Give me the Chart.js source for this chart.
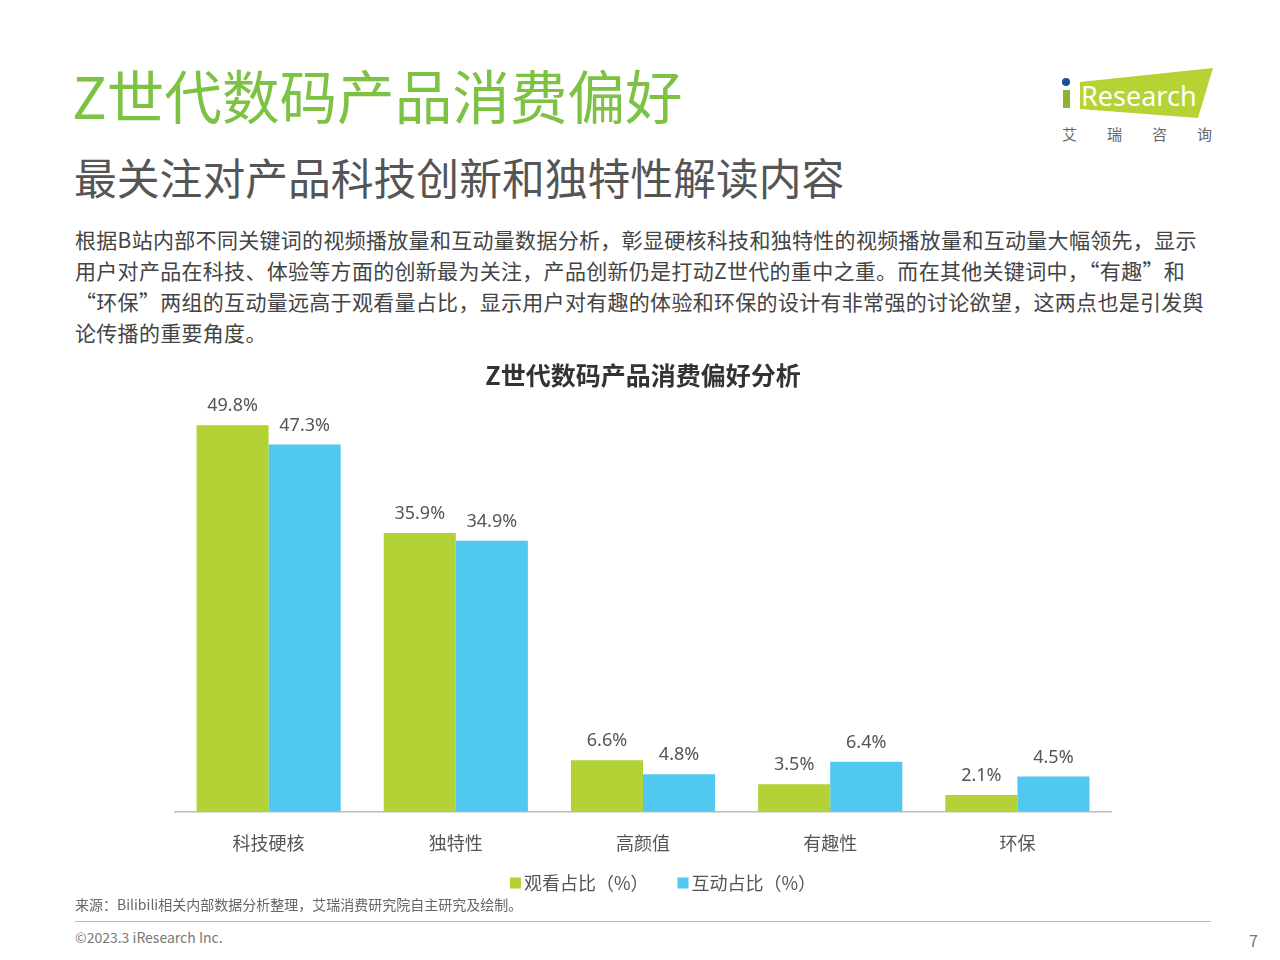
<!DOCTYPE html>
<html>
<head>
<meta charset="utf-8">
<script src="https://cdn.jsdelivr.net/npm/chart.js@4.4.0/dist/chart.umd.min.js"></script>
<style>
  html, body { margin: 0; padding: 0; background: #fff; }
  body { width: 1280px; height: 960px; position: relative; overflow: hidden; font-family: "Noto Sans CJK SC", "Noto Sans", sans-serif; }
  .title { position: absolute; left: 72px; top: 66px; font-size: 57.6px; color: #7dc242; line-height: 1; white-space: nowrap; }
  .subtitle { position: absolute; left: 74px; top: 155px; font-size: 42.8px; color: #555; line-height: 1; white-space: nowrap; }
  .para { position: absolute; left: 75px; top: 224px; font-size: 21px; letter-spacing: 0.3px; line-height: 31px; color: #444; white-space: nowrap; }
  .chartbox { position: absolute; left: 155px; top: 360px; width: 976px; height: 540px; }
  .source { position: absolute; left: 75px; top: 894px; font-size: 14px; color: #666; white-space: nowrap; }
  .rule { position: absolute; left: 75px; top: 921px; width: 1136px; height: 1px; background: #bbb; }
  .copy { position: absolute; left: 75px; top: 927px; font-size: 14px; color: #777; }
  .page { position: absolute; left: 1249px; top: 928px; font-size: 16px; color: #777; }
  .logo { position: absolute; left: 1055px; top: 64px; width: 170px; height: 90px; }
</style>
</head>
<body>
<div class="title">Z世代数码产品消费偏好</div>
<div class="subtitle">最关注对产品科技创新和独特性解读内容</div>
<div class="para">根据B站内部不同关键词的视频播放量和互动量数据分析，彰显硬核科技和独特性的视频播放量和互动量大幅领先，显示<br>用户对产品在科技、体验等方面的创新最为关注，产品创新仍是打动Z世代的重中之重。而在其他关键词中，“有趣”和<br>“环保”两组的互动量远高于观看量占比，显示用户对有趣的体验和环保的设计有非常强的讨论欲望，这两点也是引发舆<br>论传播的重要角度。</div>

<svg class="logo" viewBox="0 0 170 90">
  <polygon points="25,18 158,4 143,54 25,45" fill="#b5d334"/>
  <circle cx="11" cy="18" r="4" fill="#1f4e9c"/>
  <rect x="8" y="26" width="7" height="18" fill="#8cb431"/>
  <text x="26" y="42" font-family="Noto Sans, sans-serif" font-size="27" fill="#fff">Research</text>
  <text x="7" y="76" font-family="Noto Sans CJK SC, sans-serif" font-size="15" fill="#666" letter-spacing="30">艾瑞咨询</text>
</svg>

<div class="chartbox"><canvas id="chartCanvas"></canvas></div>

<div class="source">来源：Bilibili相关内部数据分析整理，艾瑞消费研究院自主研究及绘制。</div>
<div class="rule"></div>
<div class="copy">©2023.3 iResearch Inc.</div>
<div class="page">7</div>

<script>
const categories = ['科技硬核', '独特性', '高颜值', '有趣性', '环保'];
const viewShare = [49.8, 35.9, 6.6, 3.5, 2.1];
const interactShare = [47.3, 34.9, 4.8, 6.4, 4.5];
const seriesNames = ['观看占比（%）', '互动占比（%）'];

const cjk = '"Noto Sans CJK SC", sans-serif';

// draw value labels above each bar
const barLabels = {
  id: 'barLabels',
  afterDatasetsDraw(chart) {
    const ctx = chart.ctx;
    ctx.save();
    ctx.font = '18px "Noto Sans", sans-serif';
    ctx.fillStyle = '#555';
    ctx.textAlign = 'center';
    ctx.textBaseline = 'bottom';
    chart.data.datasets.forEach((ds, i) => {
      chart.getDatasetMeta(i).data.forEach((bar, j) => {
        ctx.fillText(ds.data[j].toFixed(1) + '%', bar.x, bar.y - 10);
      });
    });
    ctx.restore();
  }
};

// legend below the axis, slightly right of centre like the original
const bottomLegend = {
  id: 'bottomLegend',
  afterDraw(chart) {
    const ctx = chart.ctx;
    const box = 11, boxGap = 3, itemGap = 29;
    ctx.save();
    ctx.font = '18px ' + cjk;
    ctx.textBaseline = 'middle';
    const items = chart.data.datasets.map(ds => ({ text: ds.label, color: ds.backgroundColor, w: ctx.measureText(ds.label).width }));
    const total = items.reduce((s, it) => s + box + boxGap + it.w, 0) + itemGap * (items.length - 1);
    let x = chart.width / 2 + 20 - total / 2;
    const y = chart.height - 17;
    items.forEach(it => {
      ctx.fillStyle = it.color;
      ctx.fillRect(x, y - box / 2, box, box);
      x += box + boxGap;
      ctx.fillStyle = '#555';
      ctx.fillText(it.text, x, y);
      x += it.w + itemGap;
    });
    ctx.restore();
  }
};

const ctx = document.getElementById('chartCanvas').getContext('2d');
new Chart(ctx, {
  type: 'bar',
  data: {
    labels: categories,
    datasets: [
      { label: seriesNames[0], data: viewShare, backgroundColor: '#b2d235' },
      { label: seriesNames[1], data: interactShare, backgroundColor: '#50c8f0' }
    ]
  },
  options: {
    responsive: true,
    maintainAspectRatio: false,
    animation: false,
    layout: { padding: { left: 20, right: 20, top: 0, bottom: 25 } },
    datasets: { bar: { categoryPercentage: 0.77, barPercentage: 1.0 } },
    scales: {
      x: {
        grid: { display: false, drawTicks: false },
        border: { display: true, color: '#bbb', width: 1.5 },
        ticks: { color: '#555', font: { family: cjk, size: 18 }, padding: 21 }
      },
      y: {
        display: false,
        min: 0,
        max: 53.3
      }
    },
    plugins: {
      title: {
        display: true,
        text: 'Z世代数码产品消费偏好分析',
        color: '#333',
        font: { family: cjk, size: 25, weight: 'bold' },
        padding: { top: 0, bottom: 8 }
      },
      legend: { display: false },
      tooltip: { enabled: false }
    }
  },
  plugins: [barLabels, bottomLegend]
});
</script>
</body>
</html>
